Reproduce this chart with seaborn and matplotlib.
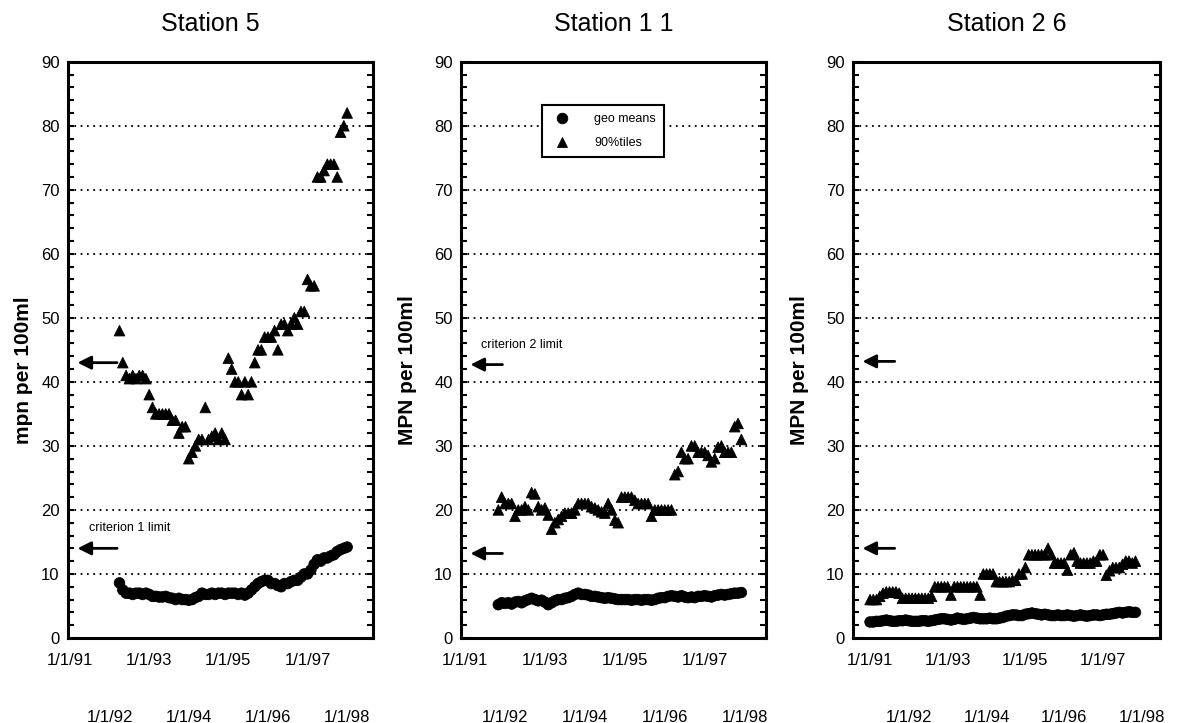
import numpy as np
import pandas as pd
import seaborn as sns
import matplotlib.pyplot as plt

sns.set_theme(style='ticks')
plt.rcParams['font.family'] = ['Liberation Sans', 'DejaVu Sans']
plt.rcParams['text.color'] = 'black'
plt.rcParams['axes.labelcolor'] = 'black'
plt.rcParams['xtick.color'] = 'black'
plt.rcParams['ytick.color'] = 'black'

titles = ['Station 5', 'Station 1 1', 'Station 2 6']
ylabels = ['mpn per 100ml', 'MPN per 100ml', 'MPN per 100ml']
first_month = ['1992-04', '1991-11', '1991-01']

# station 5, monthly Apr 1992 - Jan 1998
s5_geo = [8.6, 7.5, 7.0, 7.0, 6.8, 7.0, 7.0, 6.8, 7.0,
          6.8, 6.5, 6.5, 6.4, 6.4, 6.5, 6.3, 6.2, 6.0, 6.2, 6.0, 6.0,
          5.9, 6.0, 6.3, 6.5, 7.0, 6.8, 6.8, 7.0, 6.8, 7.0, 7.0, 6.8,
          7.0, 7.0, 7.0, 6.8, 7.0, 6.7, 7.0, 7.5, 8.0, 8.5, 8.8, 9.0,
          9.0, 8.5, 8.5, 8.2, 8.0, 8.5, 8.5, 8.8, 9.0, 9.0, 9.5, 10.0,
          10.0, 10.6, 11.5, 12.2, 12.0, 12.5, 12.5, 12.8, 13.0, 13.5, 13.8, 14.0,
          14.2]
s5_p90 = [48, 43, 41, 40.5, 41, 40.5, 41, 41, 40.5,
          38, 36, 35, 35, 35, 35, 35, 34, 34, 32, 33, 33,
          28, 29, 30, 31, 31, 36, 31, 31.5, 32, 31, 32, 31,
          43.7, 42, 40, 40, 38, 40, 38, 40, 43, 45, 45, 47,
          47, 47, 48, 45, 49, 49, 48, 49, 50, 49, 51, 51,
          56, 55, 55, 72, 72, 73, 74, 74, 74, 72, 79, 80,
          82]

# station 11, monthly Nov 1991 - Dec 1997
s11_geo = [5.2, 5.5,
           5.4, 5.5, 5.3, 5.6, 5.7, 5.5, 5.8, 6.0, 6.2, 6.0, 5.8, 5.9,
           5.6, 5.2, 5.5, 5.8, 6.0, 6.0, 6.2, 6.3, 6.5, 6.8, 7.0, 6.8,
           6.8, 6.7, 6.5, 6.5, 6.4, 6.3, 6.2, 6.3, 6.2, 6.1, 6.0, 6.0,
           6.0, 6.0, 5.9, 6.0, 6.0, 5.9, 6.0, 6.0, 5.9, 6.0, 6.2, 6.3,
           6.3, 6.5, 6.6, 6.5, 6.4, 6.6, 6.4, 6.3, 6.4, 6.3, 6.5, 6.5,
           6.6, 6.5, 6.4, 6.6, 6.7, 6.8, 6.7, 6.8, 6.9, 7.0, 7.0, 7.1]
s11_p90 = [20, 22,
           21, 21, 21, 19, 20, 20, 20.5, 20, 22.7, 22.5, 20.5, 20,
           20.3, 19.2, 17, 18, 18.5, 19, 19.5, 19.5, 19.5, 20, 21, 21,
           21, 21, 20.5, 20.3, 20, 19.7, 19.5, 21, 20, 18.4, 18, 22,
           22, 22, 22, 21.5, 21, 21, 21, 21, 19, 20, 20, 20,
           20, 20, 20, 25.5, 26, 29, 28, 28, 30, 30, 29, 29,
           29, 28.5, 27.5, 28, 29.8, 30, 29, 29, 29, 33, 33.5, 31]

# station 26, monthly Jan 1991 - Nov 1997
s26_geo = [2.5, 2.5, 2.6, 2.6, 2.7, 2.8, 2.7, 2.6, 2.6, 2.7, 2.7, 2.8,
           2.7, 2.6, 2.6, 2.6, 2.7, 2.7, 2.6, 2.7, 2.8, 2.9, 3.0, 3.0,
           2.9, 2.8, 2.9, 3.1, 3.0, 2.9, 3.0, 3.1, 3.2, 3.1, 3.0, 3.0,
           3.0, 3.1, 3.0, 3.0, 3.1, 3.2, 3.4, 3.5, 3.6, 3.6, 3.5, 3.5,
           3.7, 3.8, 3.9, 3.8, 3.7, 3.6, 3.7, 3.6, 3.5, 3.5, 3.6, 3.5,
           3.5, 3.6, 3.5, 3.4, 3.5, 3.6, 3.5, 3.4, 3.5, 3.6, 3.6, 3.5,
           3.6, 3.7, 3.7, 3.8, 3.9, 4.0, 3.9, 4.0, 4.1, 4.0, 4.0]
s26_p90 = [6, 6, 6, 6.5, 7, 7.2, 7.2, 7.2, 7.2, 7, 6.2, 6.2,
           6.2, 6.2, 6.2, 6.2, 6.2, 6.2, 6.2, 6.5, 8, 8, 8, 8,
           8, 6.7, 8, 8, 8, 8, 8, 8, 8, 8, 6.7, 10,
           10, 10, 10, 8.8, 8.8, 8.8, 8.8, 8.8, 9, 9, 10, 10,
           11, 13, 13, 13, 13, 13, 13, 14, 13, 11.7, 11.7, 11.7,
           11.7, 10.6, 13, 13.3, 12, 11.7, 11.7, 11.7, 11.7, 12, 12, 13,
           13, 9.8, 10.5, 11, 11, 11, 11.5, 12, 12, 11.7, 12]

geo_series = [s5_geo, s11_geo, s26_geo]
p90_series = [s5_p90, s11_p90, s26_p90]

odd_years = [1991, 1993, 1995, 1997]
odd_labels = ['1/1/91', '1/1/93', '1/1/95', '1/1/97']
even_years = [1992, 1994, 1996, 1998]
even_labels = ['1/1/92', '1/1/94', '1/1/96', '1/1/98']

# criterion limit arrows (90%tile limit, geo mean limit) as drawn per panel
limit_levels = [[43, 14], [42.7, 13.2], [43.2, 14]]


def station_frame(start, geo, p90):
    d = pd.date_range(start, periods=len(geo), freq='MS')
    yr = d.year + (d.month - 1) / 12
    a = pd.DataFrame({'date': yr, 'value': geo, 'series': 'geo means'})
    b = pd.DataFrame({'date': yr, 'value': p90, 'series': '90%tiles'})
    return pd.concat([a, b], ignore_index=True)


fig = plt.figure(figsize=(11.77, 7.23), dpi=100)
boxes = [[0.0578, 0.1176, 0.259, 0.797],
         [0.3917, 0.1176, 0.259, 0.797],
         [0.7247, 0.1176, 0.261, 0.797]]
xlims = [(1990.95, 1998.65), (1990.9, 1998.53), (1990.56, 1998.47)]
label_xy = [(-0.115, 0.464), (-0.144, 0.465), (-0.144, 0.465)]
arrow_tail = [0.17, 0.145, 0.145]
title_x = [0.466, 0.5, 0.5]

for i in range(3):
    ax = fig.add_axes(boxes[i])
    df = station_frame(first_month[i], geo_series[i], p90_series[i])
    sns.scatterplot(data=df, x='date', y='value', style='series',
                    markers={'geo means': 'o', '90%tiles': '^'},
                    color='black', edgecolor='black', s=58, linewidth=0.6,
                    ax=ax, legend=(i == 1), zorder=3)

    ax.set_xlim(*xlims[i])
    ax.set_ylim(0, 90)
    ax.set_yticks(np.arange(0, 91, 10))
    ax.set_yticks(np.arange(0, 91, 2), minor=True)
    ax.set_xticks(odd_years, labels=odd_labels)
    ax.set_xticks(even_years, labels=even_labels, minor=True)
    ax.tick_params(axis='x', which='major', length=0, pad=11, labelsize=12)
    ax.tick_params(axis='x', which='minor', length=0, pad=52, labelsize=12)
    ax.tick_params(axis='y', which='both', direction='in', length=4,
                   width=1.5, left=True, right=True, labelsize=12, pad=6)
    ax.yaxis.grid(True, which='major', color='black',
                  linestyle=(0, (1, 2.5)), linewidth=1.3)
    for sp in ax.spines.values():
        sp.set_linewidth(2.2)
        sp.set_color('black')
    ax.set_xlabel('')
    ax.set_ylabel(ylabels[i], fontsize=15, fontweight='bold')
    ax.yaxis.set_label_coords(*label_xy[i])
    ax.set_title(titles[i], fontsize=18, pad=22, x=title_x[i])

    for lvl in limit_levels[i]:
        ax.annotate('', xy=(0.022, lvl), xytext=(arrow_tail[i], lvl),
                    xycoords=('axes fraction', 'data'),
                    arrowprops=dict(arrowstyle='-|>', mutation_scale=20,
                                    lw=2, color='black'))

    if i == 0:
        ax.text(0.069, 17.2, 'criterion 1 limit', fontsize=9,
                transform=ax.get_yaxis_transform(), va='center')
    if i == 1:
        ax.text(0.066, 45.8, 'criterion 2 limit', fontsize=9,
                transform=ax.get_yaxis_transform(), va='center')
        handles, labels = ax.get_legend_handles_labels()
        leg = ax.legend(handles, labels, loc='upper left',
                        bbox_to_anchor=(0.245, 0.935), frameon=True,
                        fancybox=False, edgecolor='black', fontsize=9,
                        borderpad=0.6, labelspacing=1.0, handletextpad=1.6,
                        framealpha=1)
        leg.get_frame().set_linewidth(1.5)
        leg.set_zorder(5)

fig.savefig('out.png', dpi=100, facecolor='white')
